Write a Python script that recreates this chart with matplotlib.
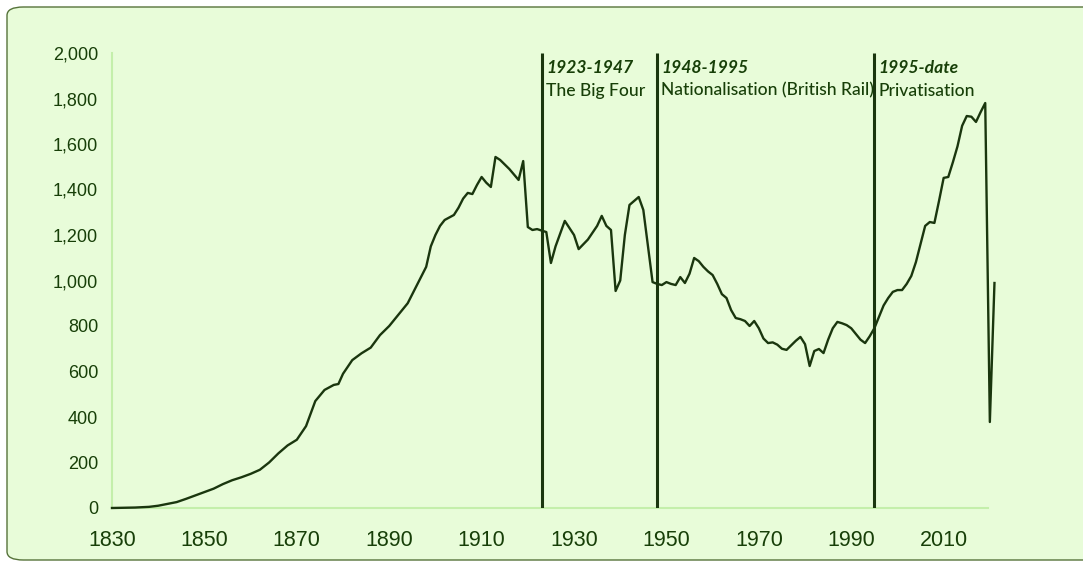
import matplotlib
matplotlib.use("Agg")
import matplotlib.pyplot as plt
from matplotlib.patches import FancyBboxPatch

# Passenger journeys (millions)
years = [
    1830, 1835, 1838, 1840, 1842, 1844, 1846, 1848, 1850, 1852, 1854, 1856,
    1858, 1860, 1862, 1864, 1866, 1868, 1870, 1872, 1874, 1876, 1878, 1879,
    1880, 1882, 1884, 1886, 1888, 1890, 1892, 1894, 1896, 1898, 1899, 1900,
    1901, 1902, 1904, 1905, 1906, 1907, 1908, 1909, 1910, 1911, 1912, 1913,
    1914, 1916, 1918, 1919, 1920, 1921, 1922, 1924, 1925, 1926, 1928, 1930,
    1931, 1933, 1935, 1936, 1937, 1938, 1939, 1940, 1941, 1942, 1944, 1945,
    1946, 1947, 1948, 1949, 1950, 1951, 1952, 1953, 1954, 1955, 1956, 1957,
    1958, 1959, 1960, 1961, 1962, 1963, 1964, 1965, 1966, 1967, 1968, 1969,
    1970, 1971, 1972, 1973, 1974, 1975, 1976, 1977, 1978, 1979, 1980, 1981,
    1982, 1983, 1984, 1985, 1986, 1987, 1988, 1989, 1990, 1991, 1992, 1993,
    1994, 1995, 1996, 1997, 1998, 1999, 2000, 2001, 2002, 2003, 2004, 2005,
    2006, 2007, 2008, 2009, 2010, 2011, 2012, 2013, 2014, 2015, 2016, 2017,
    2018, 2019, 2020, 2021,
]
journeys = [
    0, 2, 5, 10, 18, 26, 40, 55, 70, 85, 105, 122,
    135, 150, 168, 200, 240, 275, 300, 360, 470, 519, 541, 545,
    590, 650, 680, 705, 760, 800, 850, 900, 980, 1060, 1150, 1200,
    1240, 1266, 1288, 1320, 1360, 1385, 1380, 1420, 1455, 1430, 1411, 1543,
    1530, 1490, 1442, 1525, 1235, 1222, 1226, 1213, 1077, 1150, 1262, 1200,
    1138, 1180, 1240, 1284, 1240, 1222, 954, 1000, 1200, 1332, 1367, 1310,
    1150, 993, 985, 980, 993, 985, 980, 1015, 989, 1030, 1099, 1085,
    1060, 1040, 1024, 985, 940, 923, 870, 835, 830, 822, 800, 822,
    790, 745, 725, 728, 718, 700, 695, 715, 735, 752, 720, 624,
    690, 699, 681, 740, 790, 818, 812, 804, 790, 765, 740, 725,
    755, 790, 840, 890, 923, 950, 958, 958, 985, 1020, 1081, 1160,
    1240, 1257, 1253, 1350, 1451, 1455, 1520, 1590, 1680, 1723, 1720, 1697,
    1740, 1780, 378, 989,
]

era_starts = [1923, 1948, 1995]
era_dates = ["1923-1947", "1948-1995", "1995-date"]
era_names = ["The Big Four", "Nationalisation (British Rail)", "Privatisation"]

x_ticks = list(range(1830, 2011, 20))
y_ticks = list(range(0, 2001, 200))

bg = "#e8fcd9"
ink = "#1a360e"
text_col = "#173f08"

W, H = 1083, 562
fig = plt.figure(figsize=(W / 100, H / 100), dpi=100, facecolor="white")

# rounded panel behind the chart (right edge runs off the picture)
frame = FancyBboxPatch((7 / W, 2 / H), (W + 20) / W, (H - 9) / H,
                       boxstyle="round,pad=0,rounding_size=0.015",
                       transform=fig.transFigure, facecolor=bg,
                       edgecolor="#56733a", linewidth=1.0, zorder=-10)
fig.patches.append(frame)

ax = fig.add_axes([112 / W, (H - 508) / H, (988 - 112) / W, (508 - 53) / H])
ax.set_zorder(5)
ax.patch.set_visible(False)

ax.plot(years, journeys, color=ink, lw=1.7, clip_on=False, zorder=3,
        solid_joinstyle="round")

for yr, date, name in zip(era_starts, era_dates, era_names):
    ax.vlines(yr, 0, 2000, color=ink, lw=2.2, zorder=4)
    ax.annotate(date, xy=(yr, 1935), xytext=(3, 0), textcoords="offset points",
                ha="left", va="center", fontsize=12.6, color=text_col,
                family="Lato", fontweight="bold", fontstyle="italic")
    ax.annotate(name, xy=(yr, 1835), xytext=(3, 0), textcoords="offset points",
                ha="left", va="center", fontsize=12.6, color=text_col,
                family="Lato", fontweight="medium")

ax.set_xlim(1830, 2019.6)
ax.set_ylim(0, 2000)
ax.set_xticks(x_ticks)
ax.set_yticks(y_ticks)
ax.set_xticklabels([str(t) for t in x_ticks], fontsize=15.5,
                   family="Liberation Sans", color=text_col)
ax.set_yticklabels([f"{t:,}" for t in y_ticks], fontsize=13,
                   family="Liberation Sans", color=text_col)
ax.tick_params(axis="x", length=0, pad=16)
ax.tick_params(axis="y", length=0, pad=10)

for side in ["top", "right"]:
    ax.spines[side].set_visible(False)
for side in ["left", "bottom"]:
    ax.spines[side].set_color("#c4efab")
    ax.spines[side].set_linewidth(1.5)

fig.savefig("out.png", dpi=100, facecolor="white")
